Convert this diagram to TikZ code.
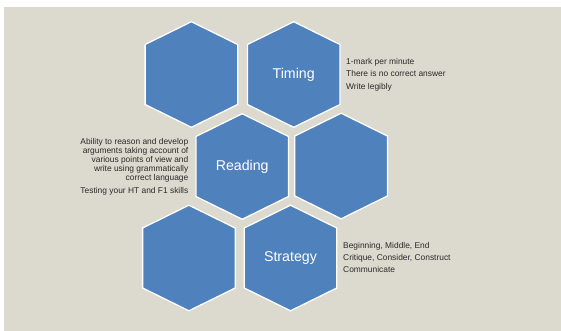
\documentclass[tikz,border=0pt]{standalone}
\usepackage{fontspec}
\setmainfont{Liberation Sans}
\definecolor{hexblue}{HTML}{4F81BD}
\definecolor{bgtan}{HTML}{DCD9CE}
\definecolor{notegray}{HTML}{2A2A2A}
\newcommand\hexat[1]{\path[hexa] #1 ++(0,52.8) -- ++(46.3,-22.8) -- ++(0,-60) -- ++(-46.3,-22.8) -- ++(-46.3,22.8) -- ++(0,60) -- cycle;}
\begin{document}
\begin{tikzpicture}[x=1pt,y=1pt,
  hexa/.style={fill=hexblue, draw=white, line width=1.3pt, line join=miter},
  hexlabel/.style={text=white, font=\fontsize{14.2}{17}\selectfont, inner sep=0pt},
  note/.style={text=notegray, font=\fontsize{8.4}{9}\selectfont, inner sep=0pt}]
\useasboundingbox (0,0) rectangle (561,331);
\fill[bgtan] (4,0) rectangle (561,324);
\coordinate (hA) at (191.4,256.5);
\coordinate (hB) at (293.7,256.5);
\coordinate (hC) at (242.2,164.5);
\coordinate (hD) at (341.1,165);
\coordinate (hE) at (188.9,73);
\coordinate (hF) at (290.5,73);
\hexat{(hA)}
\hexat{(hB)}
\hexat{(hC)}
\hexat{(hD)}
\hexat{(hE)}
\hexat{(hF)}
\node[hexlabel] (timing) at (hB) {Timing};
\node[hexlabel] (reading) at (hC) {Reading};
\node[hexlabel] (strategy) at (hF) {Strategy};
\node[note, anchor=west, align=left] (timingnotes) at (346,256.3)
  {1-mark per minute\\[3.4pt] There is no correct answer\\[3.4pt] Write legibly};
\node[note, anchor=east, align=right] (readingnotes) at (188.5,164.4)
  {Ability to reason and develop\\ arguments taking account of\\ various points of view and\\ write using grammatically\\ correct language\\[3.7pt] Testing your HT and F1 skills};
\node[note, anchor=west, align=left] (strategynotes) at (343,73.5)
  {Beginning, Middle, End\\[3.4pt] Critique, Consider, Construct\\[3.4pt] Communicate};
\end{tikzpicture}
\end{document}
